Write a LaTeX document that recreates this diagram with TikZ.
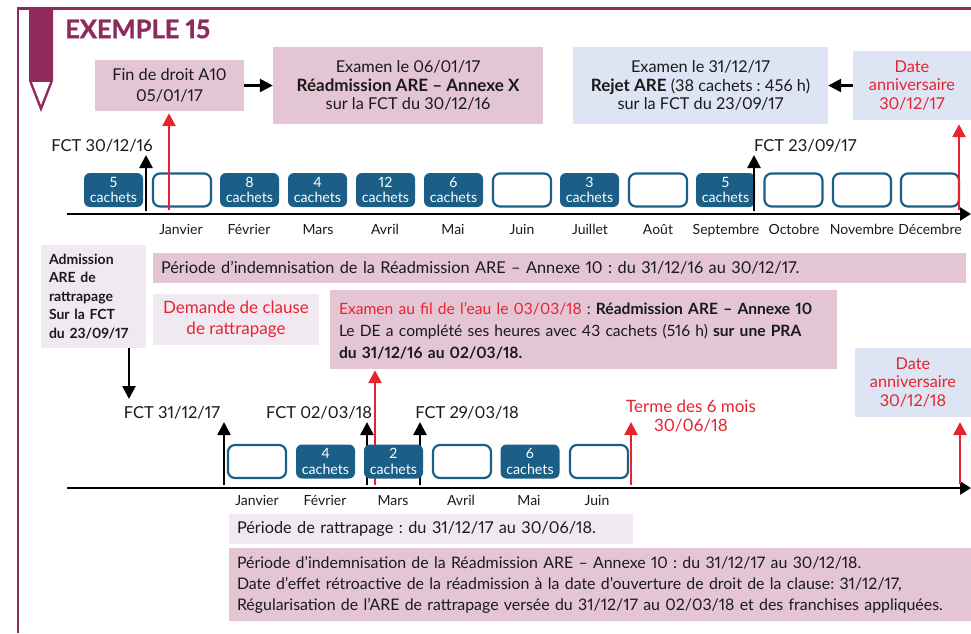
\documentclass[tikz,border=0pt]{standalone}
\usepackage{fontspec}
\setmainfont{Lato}[Numbers=Proportional]
\usetikzlibrary{arrows.meta}
\definecolor{plum}{HTML}{8E2A5C}
\definecolor{pinkbg}{HTML}{E3C5D3}
\definecolor{lilacbg}{HTML}{F1E9F1}
\definecolor{bluebg}{HTML}{DDE4F3}
\definecolor{teal}{HTML}{1B5F87}
\definecolor{redx}{HTML}{E8232F}
\definecolor{ink}{HTML}{1A1A1A}
\newcommand{\bigb}[1]{{\fontsize{17}{18}\selectfont\bfseries #1}}
\frenchspacing
\tikzset{
  x=1pt,y=-1pt,
  flat/.style={inner sep=0pt,text=ink,align=center,font=\frenchspacing\fontsize{16.3}{18.5}\selectfont},
  pinkbox/.style={flat,fill=pinkbg},
  lilacbox/.style={flat,fill=lilacbg},
  bluebox/.style={flat,fill=bluebg},
  leftbox/.style={align=left,inner xsep=8pt,inner ysep=0pt},
  full/.style={inner sep=0pt,minimum height=34pt,minimum width=59pt,fill=teal,rounded corners=6pt,text=white,align=center,font=\fontsize{14.2}{15.5}\selectfont},
  hollow/.style={inner sep=0pt,minimum height=33pt,minimum width=58pt,draw=teal,line width=2.2pt,fill=white,rounded corners=7pt},
  month/.style={inner sep=0pt,text=ink,text height=14pt,text depth=3pt,font=\fontsize{14}{16}\selectfont},
  fct/.style={inner sep=0pt,text=ink,font=\fontsize{16.5}{18}\selectfont},
  blk/.style={line width=2.6pt,draw=black,-{Triangle[length=13pt,width=13pt]}},
  rd/.style={line width=2.6pt,draw=redx,-{Triangle[length=13pt,width=13pt]}},
  axis/.style={line width=2.5pt,draw=black,-{Triangle[length=11pt,width=13pt]}},
}
\begin{document}
\begin{tikzpicture}
\useasboundingbox[fill=white] (0,0) rectangle (971,633);
% frame and bookmark
\draw[plum,line width=2.5pt] (18,633) -- (18,8.5) -- (971,8.5);
\fill[plum] (29,9) -- (53,9) -- (53,81) -- (41,112) -- (29,81) -- cycle;
\fill[white] (32,82) -- (50,82) -- (41,105) -- cycle;
\node[inner sep=0pt,anchor=west,text=plum,font=\fontsize{25.5}{27}\selectfont\bfseries\addfontfeature{FakeBold=1.2}] (title) at (65,29) {EXEMPLE 15};
% top boxes
\node[pinkbox,minimum width=149pt,minimum height=51pt,font=\fontsize{16.3}{20.5}\selectfont] (fin) at (169.5,85.5) {Fin de droit A10\\05/01/17};
\node[pinkbox,minimum width=270pt,minimum height=77pt] (exa) at (408,85.5) {Examen le 06/01/17\\\bigb{Réadmission ARE – Annexe X}\\sur la FCT du 30/12/16};
\node[bluebox,minimum width=255pt,minimum height=77pt] (exb) at (700.5,85.5) {Examen le 31/12/17\\\bigb{Rejet ARE} (38 cachets : 456 h)\\sur la FCT du 23/09/17};
\node[bluebox,minimum width=118pt,minimum height=69pt,text=redx] (dat) at (912,85.5) {Date\\anniversaire\\30/12/17};
\draw[blk] (fin) -- (exa);
\draw[blk] (dat) -- (exb);
% first timeline
\coordinate (a1) at (67,214); \coordinate (a2) at (971,214);
\draw[axis] (a1) -- (a2);
\node[full] (c1) at (113.5,190) {5\\cachets};
\node[hollow] (c2) at (182,190) {};
\node[full] (c3) at (249.5,190) {8\\cachets};
\node[full] (c4) at (317.5,190) {4\\cachets};
\node[full] (c5) at (385.5,190) {12\\cachets};
\node[full] (c6) at (453.5,190) {6\\cachets};
\node[hollow] (c7) at (522,190) {};
\node[full] (c8) at (589.5,190) {3\\cachets};
\node[hollow] (c9) at (658,190) {};
\node[full] (c10) at (725.5,190) {5\\cachets};
\node[hollow] (c11) at (793.5,190) {};
\node[hollow] (c12) at (862,190) {};
\node[hollow] (c13) at (930,190) {};
\node[month] (m1) at (181,229) {Janvier};
\node[month] (m2) at (249,229) {Février};
\node[month] (m3) at (318,229) {Mars};
\node[month] (m4) at (385,229) {Avril};
\node[month] (m5) at (453,229) {Mai};
\node[month] (m6) at (522,229) {Juin};
\node[month] (m7) at (590,229) {Juillet};
\node[month] (m8) at (658,229) {Août};
\node[month] (m9) at (726,229) {Septembre};
\node[month] (m10) at (794,229) {Octobre};
\node[month] (m11) at (862,229) {Novembre};
\node[month] (m12) at (930,229) {Décembre};
\node[fct] (f1) at (102,146) {FCT 30/12/16};
\node[fct,anchor=west] (f2) at (754,146) {FCT 23/09/17};
\coordinate (k1) at (146,211); \coordinate (k1t) at (146,155);
\coordinate (k2) at (754,211); \coordinate (k2t) at (754,155);
\coordinate (r1) at (169,210);
\coordinate (r2) at (959,210);
\draw[blk] (k1) -- (k1t);
\draw[blk] (k2) -- (k2t);
\draw[rd,shorten >=2pt] (r1) -- (r1 |- fin.south);
\draw[rd,shorten >=4pt] (r2) -- (r2 |- dat.south);
% middle boxes
\node[lilacbox,minimum width=105pt,minimum height=103pt,text width=89pt,leftbox,font=\fontsize{14}{18.4}\selectfont\bfseries] (adm) at (93.5,296.5) {Admission\\ARE de\\rattrapage\\Sur la FCT\\du 23/09/17};
\node[pinkbox,minimum height=30pt,text width=797pt,leftbox,font=\frenchspacing\fontsize{16.3}{18}\selectfont] (per) at (559.5,268) {Période d’indemnisation de la Réadmission ARE – Annexe 10 : du 31/12/16 au 30/12/17.};
\node[lilacbox,minimum width=166pt,minimum height=51pt,text=redx,font=\fontsize{17}{21}\selectfont] (dem) at (236,319.5) {Demande de clause\\de rattrapage};
\node[pinkbox,minimum height=79pt,text width=489pt,leftbox,inner xsep=9pt,font=\frenchspacing\fontsize{15.6}{22}\selectfont] (fil) at (583.5,329.5) {\rule{0pt}{15pt}\textcolor{redx}{Examen au fil de l’eau le 03/03/18} : \textbf{Réadmission ARE – Annexe 10}\\Le DE a complété ses heures avec 43 cachets (516 h) \textbf{sur une PRA}\\\textbf{du 31/12/16 au 02/03/18.}};
\node[bluebox,minimum width=116pt,minimum height=69pt,text=redx] (dat2) at (913,382.5) {Date\\anniversaire\\30/12/18};
% second timeline
\coordinate (b1) at (67,488); \coordinate (b2) at (971,488);
\draw[axis] (b1) -- (b2);
\node[fct] (g1) at (172,413) {FCT 31/12/17};
\node[fct] (g2) at (319,413) {FCT 02/03/18};
\node[fct] (g3) at (467,413) {FCT 29/03/18};
\node[inner sep=0pt,text=redx,align=center,font=\fontsize{17}{19}\selectfont] (trm) at (691,416.5) {Terme des 6 mois\\30/06/18};
\coordinate (ad) at (129,399);
\draw[blk] (adm.south -| ad) -- (ad);
\coordinate (l1) at (224,485); \coordinate (l1t) at (224,422);
\coordinate (l2) at (367,485); \coordinate (l2t) at (367,422);
\coordinate (l3) at (420,485); \coordinate (l3t) at (420,422);
\coordinate (q1) at (375,485);
\coordinate (q2) at (631,485); \coordinate (q2t) at (631,422);
\coordinate (q3) at (960,484); \coordinate (q3t) at (960,422);
\draw[blk] (l1) -- (l1t);
\draw[blk] (l2) -- (l2t);
\draw[blk] (l3) -- (l3t);
\draw[rd,shorten >=1pt] (q1) -- (q1 |- fil.south);
\draw[rd] (q2) -- (q2t);
\draw[rd] (q3) -- (q3t);
\node[hollow] (d1) at (257,461.5) {};
\node[full] (d2) at (325.5,461.5) {4\\cachets};
\node[full] (d3) at (393.5,461.5) {2\\cachets};
\node[hollow] (d4) at (462,461.5) {};
\node[full] (d5) at (530,461.5) {6\\cachets};
\node[hollow] (d6) at (599,461.5) {};
\node[month] (n1) at (257,500) {Janvier};
\node[month] (n2) at (325,500) {Février};
\node[month] (n3) at (393,500) {Mars};
\node[month] (n4) at (461,500) {Avril};
\node[month] (n5) at (529,500) {Mai};
\node[month] (n6) at (597,500) {Juin};
% bottom boxes
\node[lilacbox,minimum height=30pt,text width=388pt,leftbox,font=\frenchspacing\fontsize{16.3}{18}\selectfont] (rat) at (431,529) {Période de rattrapage : du 31/12/17 au 30/06/18.};
\node[pinkbox,minimum height=73pt,text width=726pt,leftbox,font=\frenchspacing\fontsize{15.9}{21}\selectfont] (bot) at (600,584.5) {Période d’indemnisation de la Réadmission ARE – Annexe 10 : du 31/12/17 au 30/12/18.\\Date d’effet rétroactive de la réadmission à la date d’ouverture de droit de la clause: 31/12/17,\\Régularisation de l’ARE de rattrapage versée du 31/12/17 au 02/03/18 et des franchises appliquées.};
\end{tikzpicture}
\end{document}
